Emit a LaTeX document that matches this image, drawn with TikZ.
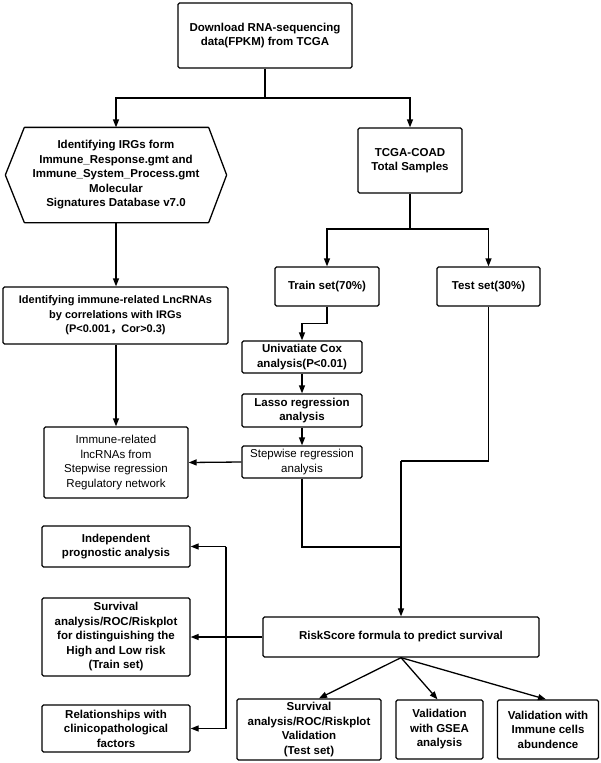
\documentclass[tikz,border=0pt]{standalone}
\usepackage{fontspec}
\setmainfont{Liberation Sans}
\newfontfamily\cjkfont{Noto Sans CJK SC}
\usetikzlibrary{arrows.meta}
\begin{document}
\begin{tikzpicture}[x=1pt,y=-1pt,
  line width=1.3pt,
  box/.style={draw, rounded corners=1.5pt, align=center, inner sep=1pt,
    font=\fontsize{11.5}{14.5}\selectfont\bfseries},
  rbox/.style={box, font=\fontsize{11.5}{14.5}\selectfont},
  txt/.style={align=center, inner sep=1pt, font=\fontsize{11.5}{14.5}\selectfont\bfseries},
  arr/.style={-{Triangle[length=8pt,width=6pt]}}]
\useasboundingbox (0,0) rectangle (600,763);
\fill[white] (0,0) rectangle (600,763);

\node[box, minimum width=174, minimum height=65] (top) at (265,35.5) {Download RNA-sequencing\\data(FPKM) from TCGA};
\node[txt, minimum width=220, minimum height=94] (hex) at (116,175) {Identifying IRGs form\\Immune\_Response.gmt and\\Immune\_System\_Process.gmt\\Molecular\\Signatures Database v7.0};
\draw[rounded corners=0.5pt] ([xshift=19pt]hex.north west) -- ([xshift=-18pt]hex.north east) -- (hex.east)
  -- ([xshift=-18pt]hex.south east) -- ([xshift=19pt]hex.south west) -- (hex.west) -- cycle;
\node[box, minimum width=104, minimum height=65] (tcga) at (410,160.5) {TCGA-COAD\\Total Samples};
\node[box, minimum width=225, minimum height=57, font=\fontsize{11}{14.5}\selectfont\bfseries] (idimm) at (115.5,315.5) {Identifying immune-related LncRNAs\\by correlations with IRGs\\(P<0.001{\cjkfont ，}Cor>0.3)};
\node[box, minimum width=104, minimum height=39] (train) at (327,286.5) {Train set(70\%)};
\node[box, minimum width=103, minimum height=39] (test) at (488.5,286.5) {Test set(30\%)};
\node[box, minimum width=120, minimum height=32] (univ) at (302,357) {Univatiate Cox\\analysis(P<0.01)};
\node[box, minimum width=120, minimum height=33] (lasso) at (302,410.5) {Lasso regression\\analysis};
\node[rbox, minimum width=120, minimum height=32] (step) at (302,462) {Stepwise regression\\analysis};
\node[rbox, minimum width=144, minimum height=71] (lnc) at (116,462.5) {Immune-related\\lncRNAs from\\Stepwise regression\\Regulatory network};
\node[box, minimum width=276, minimum height=40] (risk) at (401,637) {RiskScore formula to predict survival};
\node[box, minimum width=148, minimum height=41] (indep) at (116,546.5) {Independent\\prognostic analysis};
\node[box, minimum width=148, minimum height=78] (survtr) at (116,637) {Survival\\analysis/ROC/Riskplot\\for distinguishing the\\High and Low risk\\(Train set)};
\node[box, minimum width=148, minimum height=47] (rel) at (116,728.5) {Relationships with\\clinicopathological\\factors};
\node[box, minimum width=144, minimum height=61] (survte) at (309,729.5) {Survival\\analysis/ROC/Riskplot\\Validation\\(Test set)};
\node[box, minimum width=87, minimum height=59] (gsea) at (439.5,729.5) {Validation\\with GSEA\\analysis};
\node[box, minimum width=101, minimum height=59] (immc) at (548,729.5) {Validation with\\Immune cells\\abundence};

% connectors
\coordinate (j1) at (265,98);
\draw (top.south) -- (j1);
\draw[arr] (j1) -| (hex.north);
\draw[arr] (j1) -| (tcga.north);
\draw[arr] (hex.south) -- (idimm.north -| hex.south);
\coordinate (j2) at (410,229);
\draw (tcga.south) -- (j2);
\draw[arr] (j2) -| (train.north);
\draw[arr] (j2) -| (test.north);
\draw[arr] (train.south) -- ++(0,17) -| (univ.north);
\draw[arr] (univ.south) -- (lasso.north);
\draw[arr] (lasso.south) -- (step.north);
\draw[arr] (idimm.south -| lnc.north) -- (lnc.north);
\draw[arr] (step.west) -- (lnc.east);
\coordinate (m1) at (401,461);
\coordinate (m2) at (401,547);
\draw (test.south) |- (m1);
\draw (step.south) |- (m2);
\draw[arr] (m1) -- (risk.north);
\draw[arr] (risk.west) -- (survtr.east);
\coordinate (v1) at (226,546.5);
\coordinate (v2) at (226,728.5);
\draw (v1) -- (v2);
\draw[arr] (v1) -- (indep.east);
\draw[arr] (v2) -- (rel.east);
\draw[arr] (risk.south) -- ([xshift=10pt]survte.north);
\draw[arr] (risk.south) -- ([xshift=-2pt]gsea.north);
\draw[arr] (risk.south) -- ([xshift=-2pt]immc.north);
\end{tikzpicture}
\end{document}
